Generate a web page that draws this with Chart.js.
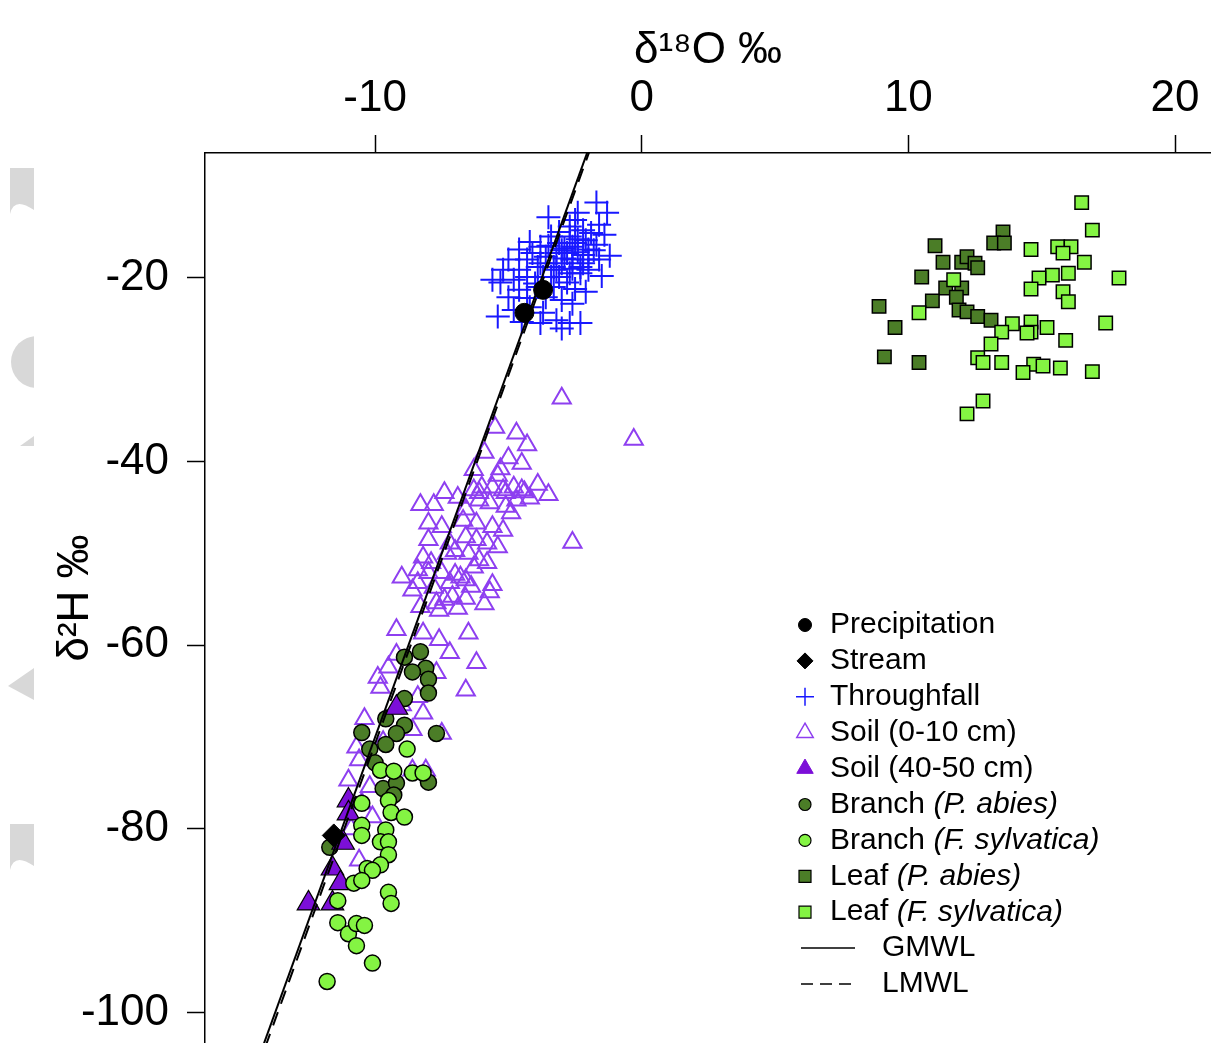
<!DOCTYPE html>
<html>
<head>
<meta charset="utf-8">
<script src="https://cdn.jsdelivr.net/npm/chart.js@4.4.1/dist/chart.umd.min.js"></script>
<style>
  html, body { margin: 0; padding: 0; background: #fff; }
  canvas { display: block; }
</style>
</head>
<body>
<canvas id="isotope_plot" width="1211" height="1043"></canvas>
<script>
// [d18O, d2H] pairs
const precipitation = [[-4.4, -23.8], [-3.7, -21.3]];
const stream = [[-11.55, -80.7]];
const throughfall = [
  [-1.7, -11.8], [-1.3, -12.9], [-3.5, -13.4], [-2.4, -12.9], [-2.5, -13.7], [-1.6, -14.2],
  [-4.2, -16.1], [-3.8, -16.6], [-3.1, -15.0], [-2.7, -15.5], [-2.1, -15.9], [-1.7, -16.4],
  [-4.6, -16.9], [-5.0, -18.0], [-4.3, -18.0], [-3.6, -17.7], [-3.2, -17.3], [-2.8, -17.3],
  [-2.4, -17.2], [-1.8, -17.0], [-1.6, -18.0], [-5.2, -19.1], [-4.6, -19.1], [-3.9, -18.8],
  [-3.3, -18.8], [-3.0, -18.4], [-2.6, -18.0], [-2.2, -18.4], [-2.0, -19.1], [-5.6, -20.2],
  [-4.8, -20.2], [-4.3, -19.9], [-3.7, -19.9], [-3.1, -19.9], [-2.7, -19.5], [-2.3, -19.5],
  [-4.6, -21.3], [-3.9, -21.0], [-3.3, -21.0], [-2.8, -20.5], [-5.0, -22.1], [-4.3, -22.2],
  [-3.6, -22.1], [-5.4, -24.2], [-4.8, -23.5], [-3.7, -23.8], [-3.2, -24.6], [-2.7, -24.9],
  [-2.3, -24.9], [-3.8, -24.9], [-4.2, -23.2], [-3.4, -19.9], [-3.1, -16.2], [-2.6, -16.6],
  [-2.2, -14.8], [-1.9, -15.1], [-2.7, -14.4], [-3.4, -15.5], [-2.3, -18.8], [-4.1, -17.3],
  [-3.8, -18.4], [-3.2, -19.1], [-2.6, -22.8], [-2.1, -21.5], [-1.5, -19.8], [-1.2, -17.6],
  [-3.0, -22.4], [-2.5, -21.2], [-4.0, -20.6], [-3.5, -16.5], [-2.9, -16.8], [-2.0, -16.9],
  [-1.4, -15.3], [-5.3, -20.5], [-4.5, -24.8], [-3.0, -25.5], [-2.9, -17.9], [-2.5, -16.2],
  [-2.2, -17.5], [-2.6, -19.0], [-3.0, -17.0], [-2.4, -15.8], [-2.0, -18.0]
];
const soilTop = [
  [-3.0, -33.1], [-0.3, -37.6], [-5.5, -36.3], [-4.7, -36.9], [-4.3, -38.2], [-5.9, -39.0],
  [-5.0, -39.6], [-4.5, -40.2], [-6.3, -40.9], [-5.4, -41.5], [-4.4, -43.3], [-3.5, -43.6],
  [-2.6, -48.8], [-7.4, -43.4], [-8.3, -44.7], [-7.8, -44.7], [-6.9, -43.9], [-6.3, -43.1],
  [-6.0, -42.8], [-5.6, -42.8], [-5.2, -43.1], [-4.8, -42.8], [-6.1, -44.2], [-5.7, -44.5],
  [-5.1, -44.9], [-4.7, -44.2], [-8.0, -46.7], [-7.5, -47.1], [-6.7, -46.4], [-6.2, -46.7],
  [-5.6, -47.1], [-5.2, -47.5], [-8.0, -48.5], [-7.2, -48.9], [-6.6, -48.2], [-6.2, -48.5],
  [-5.8, -48.9], [-5.4, -49.3], [-8.2, -50.4], [-7.3, -50.0], [-6.5, -50.0], [-6.1, -50.7],
  [-9.0, -52.6], [-8.4, -51.8], [-8.0, -52.1], [-7.5, -52.1], [-6.8, -52.6], [-6.3, -51.5],
  [-8.4, -53.2], [-7.8, -53.7], [-7.2, -53.2], [-6.6, -52.9], [-5.7, -54.2], [-8.3, -55.8],
  [-7.7, -55.4], [-7.1, -54.7], [-6.6, -54.9], [-7.6, -56.2], [-6.1, -43.4], [-5.1, -43.4],
  [-4.5, -43.1], [-5.8, -51.0], [-7.0, -52.3], [-6.4, -53.6], [-8.6, -54.0], [-7.4, -55.0],
  [-6.9, -56.0], [-5.9, -55.5], [-4.9, -45.6], [-4.2, -44.0], [-3.9, -42.5], [-5.3, -40.8],
  [-6.6, -45.2], [-7.0, -49.7], [-7.9, -51.0], [-5.6, -53.4],
  [-9.2, -58.3], [-8.2, -58.7], [-7.6, -59.4], [-6.5, -58.7], [-7.2, -60.8], [-6.2, -61.9],
  [-9.5, -62.4], [-9.8, -64.6], [-7.7, -63.0], [-6.6, -64.9], [-8.4, -65.6], [-8.2, -67.4],
  [-7.5, -69.6], [-8.6, -69.2], [-10.7, -71.1], [-10.6, -72.5], [-11.0, -74.7], [-10.2, -75.4],
  [-8.6, -73.6], [-8.1, -73.6], [-10.5, -77.2], [-10.6, -83.4], [-10.1, -78.7], [-9.9, -63.5],
  [-9.2, -61.0], [-10.4, -68.0], [-9.0, -66.5], [-10.9, -80.0], [-9.7, -70.5]
];
const soilDeep = [
  [-9.2, -66.8], [-11.0, -76.9], [-11.0, -78.3], [-11.2, -81.5], [-11.6, -84.3],
  [-11.3, -85.9], [-12.5, -88.1], [-11.6, -88.1]
];
const branchAbies = [
  [-8.3, -60.7], [-8.9, -61.3], [-8.1, -62.5], [-8.6, -62.9], [-8.0, -63.7], [-8.0, -65.2],
  [-8.9, -65.8], [-9.6, -68.0], [-8.9, -68.7], [-10.5, -69.5], [-9.2, -69.6], [-7.7, -69.6],
  [-9.6, -70.8], [-10.2, -71.3], [-10.0, -72.8], [-8.0, -74.9], [-9.7, -75.6], [-9.2, -75.0],
  [-9.3, -76.3], [-11.7, -82.0]
];
const branchSylvatica = [
  [-8.8, -71.3], [-9.8, -73.6], [-9.3, -73.7], [-8.6, -73.9], [-8.2, -73.9], [-10.5, -77.2],
  [-9.5, -76.9], [-9.4, -78.2], [-8.9, -78.7], [-10.5, -79.6], [-10.5, -80.7], [-9.6, -80.1],
  [-9.8, -81.4], [-9.5, -81.4], [-9.5, -82.8], [-9.8, -83.9], [-10.3, -84.3], [-10.1, -84.5],
  [-10.8, -85.9], [-10.5, -85.6], [-11.4, -87.8], [-9.5, -86.9], [-9.4, -88.1], [-11.4, -90.2],
  [-11.0, -91.4], [-10.7, -90.3], [-10.4, -90.5], [-10.7, -92.7], [-10.1, -94.6], [-11.8, -96.6]
];
const leafAbies = [
  [13.55, -15.0], [13.2, -16.2], [13.6, -16.2], [11.0, -16.5], [11.3, -18.3], [12.0, -18.3],
  [12.2, -17.7], [12.5, -18.4], [12.6, -18.9], [10.5, -19.9], [11.4, -21.1], [12.0, -21.1],
  [10.9, -22.5], [11.8, -22.1], [8.9, -23.1], [11.9, -23.5], [12.2, -23.7], [12.6, -24.2],
  [13.1, -24.6], [9.5, -25.4], [9.1, -28.6], [10.4, -29.2]
];
const leafSylvatica = [
  [16.5, -11.8], [16.9, -14.8], [14.6, -16.9], [15.6, -16.6], [16.1, -16.6], [15.8, -17.3],
  [16.6, -18.3], [17.9, -20.0], [16.0, -19.5], [15.4, -19.7], [14.9, -20.0], [14.6, -21.2],
  [11.7, -20.2], [15.8, -21.5], [16.0, -22.6], [10.4, -23.8], [17.4, -24.9], [13.9, -25.0],
  [14.6, -24.8], [14.6, -25.9], [14.45, -26.0], [15.2, -25.4], [13.5, -25.9], [13.1, -27.2],
  [15.9, -26.8], [12.6, -28.7], [12.8, -29.2], [13.5, -29.2], [14.7, -29.4], [15.05, -29.6],
  [14.3, -30.3], [15.7, -29.8], [16.9, -30.2], [12.8, -33.4], [12.2, -34.8]
];
// meteoric water lines, two end points each
const gmwl = [[-15, -110], [-1, 2]];
const lmwl = [[-15, -110.8], [-1, 1.5]];

const xTicks = [-10, 0, 10, 20];
const yTicks = [-100, -80, -60, -40, -20];
const xRange = [-16.38, 21.35];
const yRange = [-103.3, -6.4];

const legendNames = ['Precipitation', 'Stream', 'Throughfall', 'Soil (0-10 cm)', 'Soil (40-50 cm)',
  'Branch ', 'Branch ', 'Leaf ', 'Leaf ', 'GMWL', 'LMWL'];
const legendItalic = ['', '', '', '', '', '(P. abies)', '(F. sylvatica)', '(P. abies)', '(F. sylvatica)', '', ''];

const FONT = '"Liberation Sans", Arial, Helvetica, sans-serif';
const darkGreen = '#4b7d27';
const lightGreen = '#84f443';
const purple = '#8e3ff0';
const purpleFill = '#7c0fd8';

function pts(list) {
  return list.map(([x, y]) => ({ x: x, y: y }));
}

function scatter(label, list, style, r, fill, stroke, bw) {
  return {
    type: 'scatter', label: label, data: pts(list),
    pointStyle: style, pointRadius: r, pointBackgroundColor: fill,
    pointBorderColor: stroke, pointBorderWidth: bw, showLine: false
  };
}

function line(label, list, dash) {
  return {
    type: 'line', label: label, data: pts(list),
    borderColor: '#000', borderWidth: 2, borderDash: dash,
    pointRadius: 0, fill: false, tension: 0
  };
}

// listed bottom to top
const layers = [
  scatter('Throughfall', throughfall, 'cross', 12, 'rgba(0,0,0,0)', '#1818ff', 2),
  scatter('Soil (0-10 cm)', soilTop, 'triangle', 10.5, 'rgba(0,0,0,0)', purple, 2),
  scatter('Branch (P. abies)', branchAbies, 'circle', 8, darkGreen, '#000', 1.5),
  scatter('Soil (40-50 cm)', soilDeep, 'triangle', 13, purpleFill, '#000', 1.2),
  scatter('Branch (F. sylvatica)', branchSylvatica, 'circle', 8, lightGreen, '#000', 1.5),
  scatter('Leaf (P. abies)', leafAbies, 'rect', 9.5, darkGreen, '#000', 1.5),
  scatter('Leaf (F. sylvatica)', leafSylvatica, 'rect', 9.5, lightGreen, '#000', 1.5),
  line('GMWL', gmwl, []),
  line('LMWL', lmwl, [14, 9]),
  scatter('Stream', stream, 'rectRot', 11.5, '#000', '#000', 1),
  scatter('Precipitation', precipitation, 'circle', 9.5, '#000', '#000', 1)
];
layers.forEach((d, i) => { d.order = layers.length - i; });

// legend symbols, one per legend row
const legendSymbols = [
  { s: 'circle', r: 6.5, fill: '#000', stroke: '#000', bw: 1 },
  { s: 'diamond', r: 8, fill: '#000', stroke: '#000', bw: 1 },
  { s: 'cross', r: 9, fill: null, stroke: '#1818ff', bw: 1.5 },
  { s: 'triangle', r: 9.5, fill: null, stroke: purple, bw: 1.5 },
  { s: 'triangle', r: 9.5, fill: purpleFill, stroke: purpleFill, bw: 1 },
  { s: 'circle', r: 6, fill: darkGreen, stroke: '#000', bw: 1.2 },
  { s: 'circle', r: 6, fill: lightGreen, stroke: '#000', bw: 1.2 },
  { s: 'square', r: 6, fill: darkGreen, stroke: '#000', bw: 1.2 },
  { s: 'square', r: 6, fill: lightGreen, stroke: '#000', bw: 1.2 },
  { s: 'line', dash: [] },
  { s: 'line', dash: [12, 7] }
];

function drawSymbol(ctx, sym, x, y) {
  ctx.save();
  ctx.lineWidth = sym.bw || 1.5;
  ctx.strokeStyle = sym.stroke || '#000';
  ctx.beginPath();
  const r = sym.r;
  if (sym.s === 'circle') {
    ctx.arc(x, y, r, 0, Math.PI * 2);
  } else if (sym.s === 'diamond') {
    ctx.moveTo(x - r, y); ctx.lineTo(x, y - r); ctx.lineTo(x + r, y); ctx.lineTo(x, y + r); ctx.closePath();
  } else if (sym.s === 'cross') {
    ctx.moveTo(x - r, y); ctx.lineTo(x + r, y); ctx.moveTo(x, y - r); ctx.lineTo(x, y + r);
  } else if (sym.s === 'triangle') {
    ctx.moveTo(x, y - r); ctx.lineTo(x + r * 0.866, y + r * 0.5); ctx.lineTo(x - r * 0.866, y + r * 0.5); ctx.closePath();
  } else if (sym.s === 'square') {
    ctx.rect(x - r, y - r, 2 * r, 2 * r);
  } else if (sym.s === 'line') {
    ctx.setLineDash(sym.dash);
    ctx.lineWidth = 1.5;
    ctx.moveTo(x - 4, y); ctx.lineTo(x + 50, y);
  }
  if (sym.fill) { ctx.fillStyle = sym.fill; ctx.fill(); }
  ctx.stroke();
  ctx.restore();
}

const legendBox = {
  id: 'legendBox',
  afterDraw(chart) {
    const ctx = chart.ctx;
    const symX = 805, textX = 830, lineTextX = 882, top = 625, step = 35.9;
    ctx.save();
    ctx.fillStyle = '#000';
    ctx.textBaseline = 'middle';
    legendNames.forEach((name, i) => {
      const y = top + i * step;
      const sym = legendSymbols[i];
      drawSymbol(ctx, sym, symX, y);
      const tx = sym.s === 'line' ? lineTextX : textX;
      ctx.font = '30px ' + FONT;
      ctx.fillText(name, tx, y);
      if (legendItalic[i]) {
        const w = ctx.measureText(name).width;
        ctx.font = 'italic 30px ' + FONT;
        ctx.fillText(legendItalic[i], tx + w, y);
      }
    });
    ctx.restore();
  }
};

// faint grey shapes cut off at the left margin of the page
const marginMarks = {
  id: 'marginMarks',
  beforeDraw(chart) {
    const ctx = chart.ctx;
    ctx.save();
    ctx.beginPath();
    ctx.rect(8, 0, 26, chart.height);
    ctx.clip();
    ctx.fillStyle = '#d8d8d8';
    ctx.beginPath();
    ctx.moveTo(10, 168); ctx.lineTo(34, 168); ctx.lineTo(34, 210);
    ctx.quadraticCurveTo(14, 196, 10, 214); ctx.closePath(); ctx.fill();
    ctx.beginPath(); ctx.arc(37, 362, 26, 0, Math.PI * 2); ctx.fill();
    ctx.beginPath(); ctx.moveTo(20, 446); ctx.lineTo(34, 436); ctx.lineTo(34, 446); ctx.closePath(); ctx.fill();
    ctx.beginPath(); ctx.moveTo(8, 686); ctx.lineTo(34, 668); ctx.lineTo(34, 700); ctx.closePath(); ctx.fill();
    ctx.beginPath();
    ctx.moveTo(10, 824); ctx.lineTo(34, 824); ctx.lineTo(34, 866);
    ctx.quadraticCurveTo(14, 852, 10, 870); ctx.closePath(); ctx.fill();
    ctx.restore();
  }
};

// fix the axis boxes so the plot area runs to the right and bottom edges
function fitBox(size, key) {
  return (s) => {
    s[key] = size;
    s.paddingTop = 0; s.paddingBottom = 0; s.paddingLeft = 0; s.paddingRight = 0;
  };
}

Chart.defaults.font.family = FONT;
Chart.defaults.color = '#000';

new Chart(document.getElementById('isotope_plot'), {
  data: { datasets: layers },
  options: {
    responsive: false,
    animation: false,
    events: [],
    layout: { padding: 0, autoPadding: false },
    plugins: { legend: { display: false }, tooltip: { enabled: false } },
    scales: {
      x: {
        type: 'linear', position: 'top', min: xRange[0], max: xRange[1],
        afterBuildTicks: (s) => { s.ticks = xTicks.map(v => ({ value: v })); },
        afterFit: fitBox(153, 'height'),
        ticks: { font: { size: 44 }, color: '#000', padding: 10, maxRotation: 0 },
        grid: { drawOnChartArea: false, tickLength: 18, tickColor: '#000', tickWidth: 1.5 },
        border: { display: true, color: '#000', width: 1.5 },
        title: { display: true, text: 'δ¹⁸O ‰', font: { size: 44 }, color: '#000', padding: { top: 24, bottom: 0 } }
      },
      y: {
        type: 'linear', position: 'left', min: yRange[0], max: yRange[1],
        afterBuildTicks: (s) => { s.ticks = yTicks.map(v => ({ value: v })); },
        afterFit: fitBox(205, 'width'),
        ticks: { font: { size: 44 }, color: '#000', padding: 18 },
        grid: { drawOnChartArea: false, tickLength: 18, tickColor: '#000', tickWidth: 1.5 },
        border: { display: true, color: '#000', width: 1.5 },
        title: { display: true, text: 'δ²H ‰', font: { size: 44 }, color: '#000', padding: { top: 49, bottom: 0 } }
      }
    }
  },
  plugins: [marginMarks, legendBox]
});
</script>
</body>
</html>
